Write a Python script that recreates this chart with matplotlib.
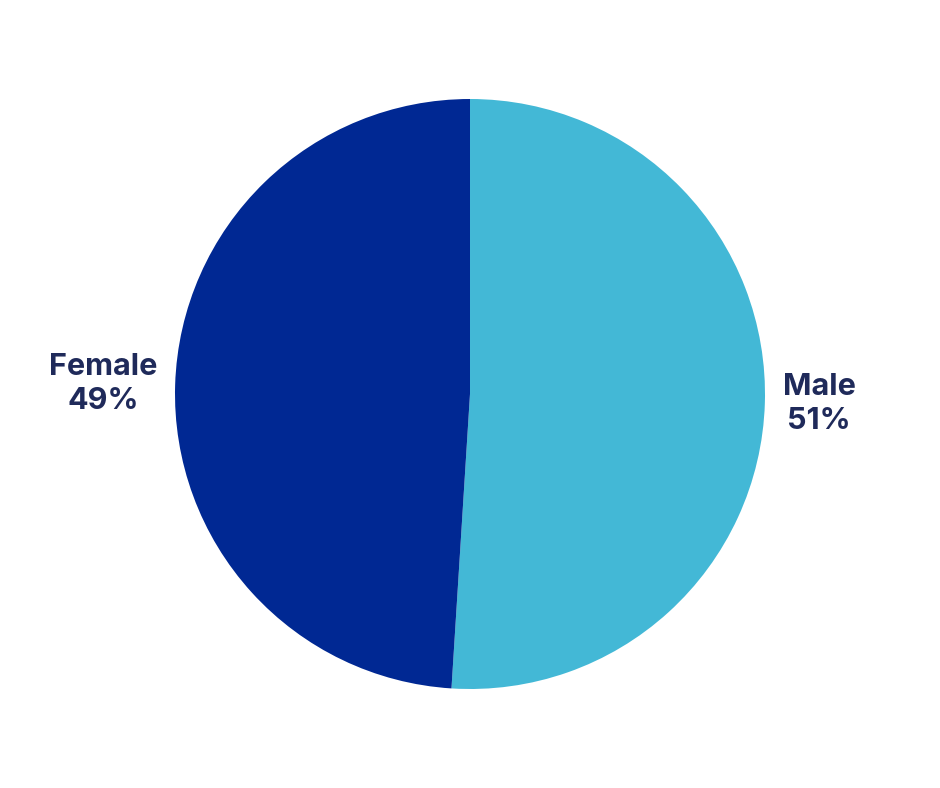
import matplotlib
matplotlib.use("Agg")
import matplotlib.pyplot as plt

labels = ["Male", "Female"]
shares = [51, 49]
colors = ["#43B8D6", "#002893"]
text_color = "#1F2A5A"

fig = plt.figure(figsize=(9.4, 7.88), dpi=100)
fig.patch.set_facecolor("white")

# pie of radius 1 spans 590 px, centred at (470, 394) from top-left
ax = fig.add_axes([175 / 940, 99 / 788, 590 / 940, 590 / 788])

pie_labels = [f"{name}\n{val}%" for name, val in zip(labels, shares)]
ax.pie(
    shares,
    labels=pie_labels,
    colors=colors,
    startangle=90,
    counterclock=False,
    labeldistance=1.06,
    radius=1,
    wedgeprops={"linewidth": 0},
    textprops={"fontsize": 22, "fontweight": "bold", "color": text_color,
               "family": "Inter", "multialignment": "center",
               "linespacing": 1.3},
)
ax.set_xlim(-1, 1)
ax.set_ylim(-1, 1)
ax.set_aspect("equal")
ax.axis("off")

fig.savefig("out.png", dpi=100, facecolor="white")
